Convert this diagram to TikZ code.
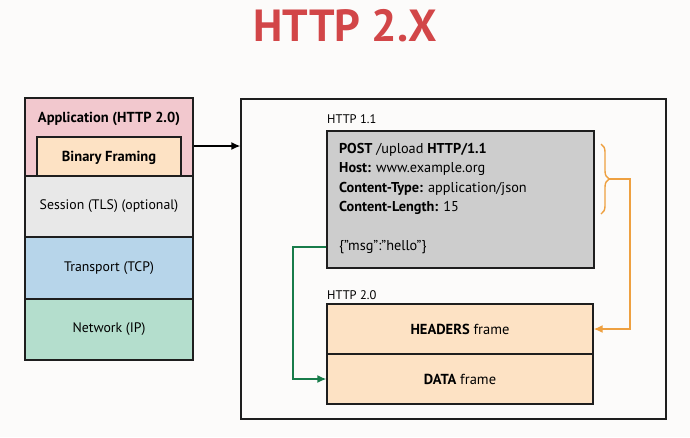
\documentclass[tikz,border=0pt]{standalone}
\usepackage{fontspec}
\setmainfont{PT Sans}
\usetikzlibrary{arrows.meta,decorations.pathreplacing,calc}

\definecolor{bgpaper}{RGB}{252,251,250}
\definecolor{titlered}{RGB}{210,70,72}
\definecolor{apppink}{RGB}{242,200,206}
\definecolor{framepeach}{RGB}{253,226,196}
\definecolor{sessgray}{RGB}{232,232,232}
\definecolor{tcpblue}{RGB}{183,213,234}
\definecolor{ipgreen}{RGB}{180,222,205}
\definecolor{msggray}{RGB}{205,205,205}
\definecolor{linkgreen}{RGB}{24,124,74}
\definecolor{linkorange}{RGB}{238,160,64}
\definecolor{edge}{RGB}{30,30,30}

\tikzset{
  layer/.style={draw=edge, line width=1.4pt, inner sep=0pt},
  lbl/.style={font=\fontsize{13.8}{16}\selectfont, text=black, inner sep=0pt},
  boldlbl/.style={lbl, font=\fontsize{14.5}{16}\selectfont\bfseries},
  tag/.style={font=\fontsize{12.5}{14}\selectfont, anchor=west, inner sep=0pt},
  link/.style={line width=1.4pt, -{Latex[length=9pt,width=8pt]}},
}

\begin{document}
\begin{tikzpicture}[x=1pt,y=-1pt]
  \fill[bgpaper] (0,0) rectangle (690,437);
  \useasboundingbox (0,0) rectangle (690,437);

  % title
  \node[font=\fontsize{45}{48}\selectfont\bfseries, text=titlered] (title) at (345,26) {HTTP 2.X};

  % protocol stack
  \node[layer, fill=apppink, minimum width=168pt, minimum height=78pt] (app) at (109,137) {};
  \node[boldlbl] (apptext) at (109,119) {Application (HTTP 2.0)};
  \node[layer, fill=framepeach, minimum width=144pt, minimum height=39pt] (bf) at (109,156.5) {};
  \node[boldlbl] (bftext) at (109,158) {Binary Framing};
  \node[layer, fill=sessgray, minimum width=168pt, minimum height=61pt] (sess) at (109,206.5) {};
  \node[lbl] at (sess) {Session (TLS) (optional)};
  \node[layer, fill=tcpblue, minimum width=168pt, minimum height=62pt] (tcp) at (109,268) {};
  \node[lbl] at (tcp) {Transport (TCP)};
  \node[layer, fill=ipgreen, minimum width=168pt, minimum height=61pt] (ip) at (109,329.5) {};
  \node[lbl] at (ip) {Network (IP)};

  % detail panel
  \node[layer, minimum width=425pt, minimum height=320pt] (panel) at (453.5,259) {};
  \draw[link] ([yshift=-9pt]app.east) -- ([yshift=-9pt]app.east -| panel.west);

  % HTTP 1.1 message
  \node[tag] (h11) at (327,119) {HTTP 1.1};
  \node[layer, fill=msggray, minimum width=267pt, minimum height=137pt] (msg) at (460.5,199.5) {};
  \node[lbl, anchor=north west, align=left, font=\fontsize{14.3}{19.3}\selectfont] (hdrs) at (339,143)
    {\textbf{POST} /upload \textbf{HTTP/1.1}\\
     \textbf{Host:} www.example.org\\
     \textbf{Content-Type:} application/json\\
     \textbf{Content-Length:} 15};
  \node[lbl, anchor=west, font=\fontsize{14.3}{16}\selectfont] (body) at (339,247) {\{”msg”:”hello”\}};

  % HTTP 2.0 frames
  \node[tag] (h20) at (327,295) {HTTP 2.0};
  \node[layer, fill=framepeach, minimum width=266pt, minimum height=50pt] (headers) at (460,329) {};
  \node[boldlbl, font=\fontsize{14.5}{16}\selectfont] at (headers) {\textbf{HEADERS} frame};
  \node[layer, fill=framepeach, minimum width=266pt, minimum height=50pt] (data) at (460,379) {};
  \node[boldlbl, font=\fontsize{14.5}{16}\selectfont] at (data) {\textbf{DATA} frame};

  % header lines become the HEADERS frame
  \coordinate (btop) at (601,144);
  \coordinate (bbot) at (601,214);
  \draw[linkorange, line width=1.4pt, decorate, decoration={brace, amplitude=8pt}] (btop) -- (bbot);
  \coordinate (btip) at (609,179);
  \draw[link, linkorange] (btip) -- (630,179) |- (headers.east);

  % body becomes the DATA frame
  \draw[link, linkgreen] (msg.west |- body) -- (293,0 |- body) |- (data.west);
\end{tikzpicture}
\end{document}
